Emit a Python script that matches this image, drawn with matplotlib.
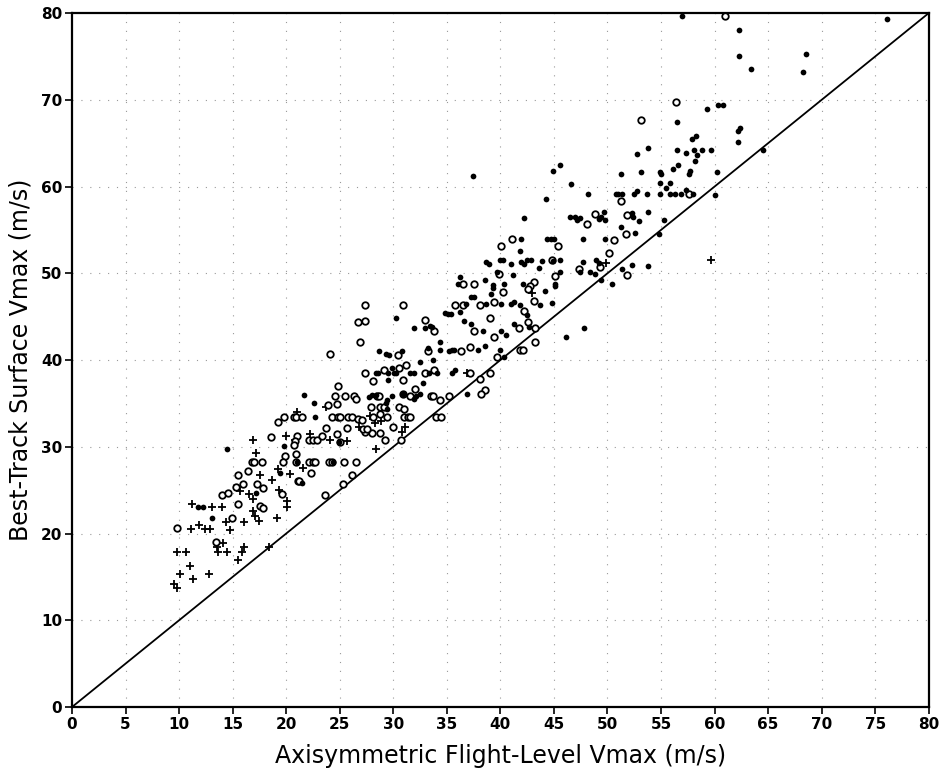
import matplotlib.pyplot as plt
import numpy as np

# Vmax: best-track surface vs axisymmetric flight-level (m/s)
# three groups of points: crosses, open circles, filled dots

cross_x = [16.9, 20.0, 20.8, 22.2, 24.1, 25.7, 30.8, 17.2, 21.6, 19.2, 20.4, 17.6, 18.7,
           15.7, 16.5, 16.9, 19.3, 11.2, 13.1, 14.0, 20.1, 20.1, 16.9, 17.1, 17.5, 16.1,
           19.1, 14.4, 11.1, 11.9, 12.4, 12.9, 14.8, 14.1, 13.5, 13.6, 14.5, 16.1, 15.9,
           15.5, 18.4, 9.8, 10.6, 11.0, 10.1, 11.3, 12.8, 9.5, 9.8, 28.4,
           21.0, 23.7, 27.8, 28.3, 28.9, 26.8, 31.1,
           43.0, 36.9, 59.7, 49.9]
cross_y = [30.8, 31.2, 30.8, 31.5, 30.8, 30.7, 31.7, 29.3, 27.6, 27.4, 26.9, 26.8, 26.2,
           24.9, 24.6, 24.0, 25.0, 23.4, 23.1, 23.1, 23.7, 23.1, 22.6, 22.0, 21.4, 21.3,
           21.8, 21.3, 20.5, 21.0, 20.5, 20.5, 20.4, 18.9, 18.4, 17.9, 17.9, 18.5, 17.9,
           17.0, 18.4, 17.9, 17.9, 16.3, 15.3, 14.8, 15.3, 14.2, 13.7, 29.7,
           34.0, 34.6, 33.5, 32.8, 33.0, 32.3, 32.3,
           47.7, 38.5, 51.5, 51.2]

open_x = [18.6, 21.0, 20.8, 20.7, 22.1, 22.5, 22.9, 23.3, 24.7, 25.0, 27.4, 28.0, 28.8,
          29.2, 30.7, 19.9, 20.9, 16.8, 17.0, 17.7, 19.7, 20.9, 22.1, 22.5, 22.7, 24.0,
          24.3, 25.4, 26.5, 22.3, 15.5, 16.4, 21.1, 21.2, 15.3, 16.0, 17.3, 17.8, 19.6,
          14.0, 14.6, 15.5, 17.6, 17.8, 23.6, 25.3, 26.1, 14.9, 9.8, 13.4,
          27.4, 30.9, 26.7, 27.4, 26.9, 24.1, 33.0, 33.8, 33.2, 30.4, 27.4, 28.1, 29.1,
          30.5, 31.2, 30.9, 33.0, 33.8, 32.0, 24.8, 24.6, 25.5, 26.3, 26.5, 28.5, 28.7,
          30.9, 31.6, 33.5, 33.7, 34.4, 23.9, 24.7, 27.9, 28.8, 29.1, 30.5, 31.0, 28.8,
          19.2, 19.8, 20.7, 20.9, 21.5, 24.3, 24.8, 25.0, 25.8, 26.1, 26.7, 27.1, 28.1,
          29.4, 31.0, 31.4, 31.6, 34.0, 34.5, 35.2, 23.7, 25.7, 27.2, 27.5, 30.0,
          36.5, 37.5, 39.9, 40.2, 43.1, 42.8, 42.6, 43.1, 45.1, 51.8, 35.8, 36.5, 38.1,
          39.4, 42.2, 39.0, 42.6, 41.7, 37.5, 39.4, 43.2, 43.2, 37.2, 36.3, 41.8, 42.1,
          39.7, 37.2, 39.0, 38.1, 38.6, 38.2,
          41.1, 40.1, 45.4, 48.1, 44.8, 47.3,
          51.3, 57.6, 51.8, 48.8, 50.6, 51.7, 50.1, 49.3,
          61.0, 56.4, 53.1]
open_y = [31.1, 31.2, 30.7, 30.2, 30.8, 30.8, 30.8, 31.2, 31.5, 30.5, 31.7, 31.6, 31.6,
          30.8, 30.8, 28.9, 29.2, 28.3, 28.3, 28.3, 28.3, 28.3, 28.3, 28.3, 28.3, 28.3,
          28.3, 28.3, 28.3, 27.0, 26.7, 27.2, 26.1, 26.0, 25.4, 25.7, 25.7, 25.3, 24.6,
          24.4, 24.7, 23.4, 23.2, 23.0, 24.4, 25.7, 26.8, 21.8, 20.6, 19.0,
          46.3, 46.3, 44.4, 44.5, 42.1, 40.7, 44.6, 43.3, 41.1, 40.6, 38.5, 37.6, 38.8,
          39.1, 39.4, 37.7, 38.5, 38.8, 36.7, 37.0, 35.9, 35.9, 35.9, 35.5, 35.9, 35.9,
          36.1, 35.9, 35.9, 35.9, 35.4, 34.8, 34.9, 34.6, 34.6, 34.6, 34.6, 34.3, 33.8,
          32.9, 33.4, 33.4, 33.4, 33.4, 33.4, 33.4, 33.4, 33.4, 33.4, 33.2, 33.1, 33.4,
          33.4, 33.4, 33.4, 33.4, 33.4, 33.4, 35.8, 32.2, 32.2, 32.0, 32.0, 32.3,
          48.8, 48.8, 49.9, 47.9, 49.0, 48.5, 48.2, 46.8, 49.7, 49.8, 46.3, 46.4, 46.4,
          46.7, 45.7, 44.8, 44.4, 43.7, 43.3, 42.7, 43.7, 42.1, 41.5, 41.1, 41.2, 41.2,
          40.3, 38.5, 38.5, 37.8, 36.5, 36.1,
          54.0, 53.1, 53.2, 55.7, 51.5, 50.5,
          58.3, 59.1, 56.7, 56.8, 53.8, 54.5, 52.4, 50.7,
          79.7, 69.8, 67.7]

filled_x = [24.9, 14.5, 19.8, 21.0, 24.4, 19.4, 21.5, 17.2, 11.8, 12.2, 13.1,
            30.3, 31.9, 33.0, 33.4, 33.6, 34.8, 35.1, 34.4, 34.4, 35.2, 33.2, 28.7, 29.3,
            29.6, 30.8, 32.5, 33.7, 29.9, 28.4, 28.6, 29.5, 30.1, 30.3, 31.6, 31.9, 33.3,
            34.1, 29.5, 32.8, 21.7, 27.7, 28.0, 28.4, 29.9, 29.4, 29.3, 31.9, 32.1, 32.5,
            30.9, 22.6, 22.7, 29.4,
            36.2, 36.0, 38.6, 39.3, 39.3, 39.7, 41.2, 40.3, 42.1, 39.1, 37.3, 37.5, 36.8,
            38.7, 40.1, 41.0, 41.3, 41.8, 43.7, 44.2, 44.8, 45.1, 45.1, 45.6, 47.4, 48.4,
            48.8, 49.4, 50.4, 35.4, 36.2, 36.6, 37.3, 38.4, 40.1, 40.5, 41.3, 42.5, 42.7,
            37.9, 38.6, 40.0, 35.5, 35.7, 40.3, 46.1, 47.8, 35.5, 35.8, 36.9,
            37.4, 45.6, 44.9, 46.6, 48.2, 44.3, 42.2, 46.5, 47.0, 47.2, 47.4, 41.9, 44.4,
            44.7, 45.0, 47.7, 41.8, 38.7, 38.9, 40.0, 40.2, 41.0, 41.9, 42.2, 42.5, 42.9,
            43.9, 44.9, 45.6, 47.7, 43.6,
            62.2, 62.2, 57.9, 58.3, 53.8, 52.8, 56.5, 57.3, 58.1, 58.8, 59.7, 58.4, 58.2,
            64.5, 51.3, 53.1, 54.9, 55.0, 56.1, 56.6, 57.6, 57.7, 60.2, 54.9, 55.8, 55.5,
            52.5, 52.8, 50.8, 51.0, 51.4, 53.7, 54.9, 55.8, 56.3, 56.9, 57.3, 58.0, 60.0,
            49.7, 49.2, 49.4, 49.8, 52.3, 52.4, 53.8, 52.9, 55.3, 51.3, 52.6, 49.8, 54.8,
            48.9, 49.2, 51.4, 52.3, 53.8,
            57.0, 62.3, 62.3, 63.4, 68.5, 68.3, 76.1, 59.3, 60.3, 60.8, 56.5, 62.4]
filled_y = [30.6, 29.7, 30.1, 28.2, 28.3, 27.0, 25.8, 24.7, 23.1, 23.1, 21.8,
            44.8, 43.7, 43.7, 43.9, 43.8, 45.4, 45.3, 42.1, 41.2, 41.0, 41.4, 41.1, 40.7,
            40.6, 41.1, 39.8, 40.0, 39.1, 38.5, 38.5, 38.5, 38.5, 38.5, 38.5, 38.5, 38.5,
            38.5, 37.7, 37.3, 36.0, 35.7, 36.0, 36.0, 35.9, 35.4, 35.1, 35.5, 35.8, 36.1,
            36.1, 35.1, 33.4, 34.4,
            49.6, 48.8, 49.2, 48.7, 48.3, 50.1, 49.8, 48.8, 48.8, 47.6, 47.3, 47.3, 46.5,
            46.5, 46.5, 46.5, 46.7, 46.4, 46.4, 48.0, 46.6, 48.8, 48.5, 50.1, 50.2, 50.2,
            49.9, 49.2, 48.8, 45.3, 45.5, 44.5, 44.2, 43.3, 43.4, 42.9, 44.2, 45.2, 43.8,
            41.2, 41.6, 41.2, 41.2, 41.2, 40.3, 42.7, 43.7, 38.5, 38.9, 36.1,
            61.2, 62.5, 61.8, 60.3, 59.1, 58.6, 56.4, 56.5, 56.5, 56.1, 56.4, 54.0, 54.0,
            54.0, 54.0, 54.0, 52.6, 51.3, 51.1, 51.5, 51.5, 51.1, 51.3, 51.1, 51.5, 51.5,
            51.4, 51.4, 51.5, 51.3, 50.6,
            66.4, 65.1, 65.5, 65.8, 64.5, 63.8, 64.2, 63.9, 64.2, 64.2, 64.2, 63.6, 63.0,
            64.2, 61.5, 61.7, 61.7, 61.5, 62.0, 62.5, 61.5, 61.8, 61.7, 60.4, 60.4, 59.8,
            59.2, 59.5, 59.1, 59.1, 59.1, 59.2, 59.2, 59.2, 59.2, 59.2, 59.6, 59.1, 59.0,
            57.1, 56.3, 56.5, 56.2, 56.9, 56.5, 57.1, 56.0, 56.2, 55.3, 54.7, 54.0, 54.5,
            51.5, 51.2, 50.5, 51.0, 50.9,
            79.7, 78.1, 75.0, 73.6, 75.3, 73.2, 79.3, 68.9, 69.4, 69.4, 67.5, 66.8]

x_ticks = np.arange(0, 81, 5)
y_ticks = np.arange(0, 81, 10)

fig = plt.figure(figsize=(9.4, 7.71), dpi=100)
ax = fig.add_axes([0.0766, 0.083, 0.9114, 0.9])

# dotted grid
for v in x_ticks[1:-1]:
    ax.axvline(v, color='#999999', lw=0.8, ls=(0, (1, 7)), zorder=0)
for v in y_ticks[1:-1]:
    ax.axhline(v, color='#999999', lw=0.8, ls=(0, (1, 7)), zorder=0)

ax.plot([0, 80], [0, 80], color='black', lw=1.3, zorder=1)

ax.scatter(cross_x, cross_y, marker='+', s=38, c='black', linewidths=1.3, zorder=3)
ax.scatter(open_x, open_y, marker='o', s=22, facecolors='white', edgecolors='black',
           linewidths=1.3, zorder=3)
ax.scatter(filled_x, filled_y, marker='o', s=17, c='black', linewidths=0, zorder=3)

ax.set_xlim(0, 80)
ax.set_ylim(0, 80)
ax.set_xticks(x_ticks)
ax.set_yticks(y_ticks)
ax.tick_params(direction='out', length=5, width=1.2, pad=2, labelsize=11)
for lab in ax.get_xticklabels() + ax.get_yticklabels():
    lab.set_fontweight('bold')

for sp in ax.spines.values():
    sp.set_linewidth(1.6)

ax.set_xlabel('Axisymmetric Flight-Level Vmax (m/s)', fontsize=17, labelpad=9)
ax.set_ylabel('Best-Track Surface Vmax (m/s)', fontsize=17, labelpad=6)

fig.savefig('out.png', dpi=100)
